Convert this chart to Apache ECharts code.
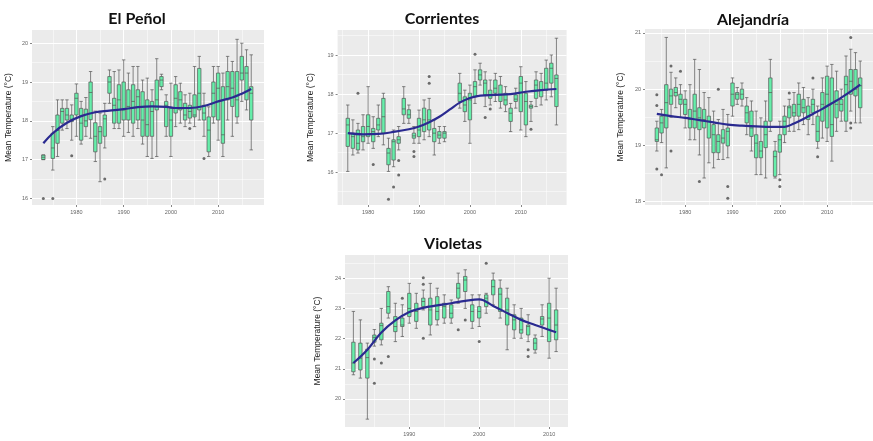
<!DOCTYPE html>
<html><head><meta charset="utf-8">
<script src="https://cdn.jsdelivr.net/npm/echarts@6/dist/echarts.min.js"></script>
<style>html,body{margin:0;padding:0;background:#fff}#c{width:873px;height:441px}</style>
</head><body><div id="c"></div><script>
// ---------- El Peñol ----------
const penolBoxes = [
 [1973,17.0,17.0,17.06,17.12,17.12],[1975,16.73,17.03,17.3,17.68,17.85],[1976,17.08,17.42,17.75,18.15,18.54],
 [1977,17.76,17.94,18.24,18.32,18.54],[1978,17.8,18.02,18.15,18.32,18.54],[1979,17.5,17.98,18.04,18.15,18.41],
 [1980,17.6,18.15,18.58,18.71,18.95],[1981,17.4,17.5,17.94,18.32,18.5],[1982,17.6,17.85,18.0,18.3,18.6],
 [1983,17.55,18.03,18.73,19.0,19.27],[1984,16.95,17.2,17.6,17.95,18.25],[1985,16.43,17.42,17.72,17.85,18.2],
 [1986,17.3,17.6,18.05,18.15,18.45],[1987,18.45,18.71,19.0,19.14,19.31],[1988,17.8,17.94,18.4,18.58,19.27],
 [1989,17.8,17.94,18.54,18.93,19.31],[1990,17.6,18.02,18.28,19.0,19.57],[1991,17.7,18.02,18.37,18.8,19.23],
 [1992,17.6,17.94,18.5,18.93,19.4],[1993,17.8,18.02,18.62,18.8,19.4],[1994,17.4,17.6,18.02,18.75,19.05],
 [1995,17.08,17.6,17.9,18.54,19.1],[1996,17.03,17.6,18.24,18.5,18.8],[1997,17.08,18.28,18.54,19.05,19.6],
 [1998,18.8,18.88,19.05,19.14,19.2],[1999,17.6,17.85,18.4,18.5,18.67],[2000,17.08,17.6,18.02,18.32,18.97],
 [2001,17.85,18.2,18.58,18.93,19.14],[2002,17.94,18.28,18.54,18.75,18.97],[2003,17.85,18.02,18.15,18.45,18.67],
 [2004,17.94,18.07,18.24,18.4,18.71],[2005,17.85,18.1,18.15,18.67,19.4],[2006,18.02,18.28,18.71,19.35,19.66],
 [2007,17.6,18.02,18.2,18.4,18.71],[2008,17.08,17.2,17.76,18.1,18.36],[2009,17.94,18.1,18.71,19.0,19.4],
 [2010,17.5,18.02,18.84,19.23,19.4],[2011,17.08,17.42,17.64,18.88,19.23],[2012,18.02,18.54,18.88,19.27,19.66],
 [2013,17.6,18.37,18.84,19.27,19.53],[2014,17.94,18.1,18.54,19.27,20.1],[2015,18.5,19.05,19.23,19.66,20.0],
 [2016,18.28,18.54,19.23,19.4,19.83],[2017,17.25,18.02,18.71,18.88,19.7]
];
const penolOutliers = [[1973,16.0],[1975,16.0],[1979,17.1],[1986,16.5],[2004,17.8],[2007,17.03]];
const penolSmooth = [[1973,17.42],[1975,17.68],[1978,17.95],[1981,18.12],[1984,18.22],[1987,18.26],[1990,18.3],
 [1993,18.35],[1996,18.37],[1999,18.36],[2001,18.33],[2004,18.33],[2007,18.38],[2010,18.5],[2013,18.6],[2015,18.7],[2017,18.82]];
const penolXTicks = [1980,1990,2000,2010];
const penolYTicks = [16,17,18,19,20];
const penolXMinor = [1975,1985,1995,2005,2015];
const penolYMinor = [16.5,17.5,18.5,19.5];

// ---------- Corrientes ----------
const corrBoxes = [
 [1976,16.02,16.66,17.21,17.38,17.72],[1977,16.44,16.61,16.91,17.0,17.34],[1978,16.49,16.57,16.74,17.08,17.25],
 [1979,16.57,16.78,16.91,17.17,17.47],[1980,16.74,16.91,17.17,17.47,18.19],[1981,16.61,16.78,17.04,17.12,17.42],
 [1982,16.91,17.08,17.21,17.38,17.72],[1983,16.7,17.0,17.42,17.89,18.02],[1984,16.02,16.19,16.49,16.61,16.87],
 [1985,16.14,16.31,16.78,16.83,17.08],[1986,16.57,16.74,16.83,16.91,17.17],[1987,17.25,17.47,17.62,17.89,18.19],
 [1988,17.25,17.38,17.47,17.6,17.72],[1989,16.74,16.87,16.93,17.0,17.17],[1990,16.74,16.91,17.08,17.38,17.59],
 [1991,16.83,17.04,17.34,17.64,17.85],[1992,16.91,17.08,17.34,17.6,17.89],[1993,16.44,16.78,17.0,17.12,17.34],
 [1994,16.74,16.87,16.95,17.04,17.17],[1995,16.78,16.87,17.0,17.04,17.17],
 [1998,17.64,17.81,18.02,18.28,18.53],[1999,17.3,17.55,17.72,17.93,18.1],[2000,16.74,17.34,17.85,18.02,18.23],
 [2001,17.76,17.93,18.19,18.32,18.62],[2002,18.23,18.36,18.49,18.62,18.79],[2003,17.68,17.98,18.28,18.36,18.57],
 [2004,17.72,17.89,17.98,18.1,18.36],[2005,17.81,18.02,18.15,18.36,18.53],[2006,17.64,17.81,17.98,18.23,18.45],
 [2007,17.55,17.72,17.85,18.02,18.19],[2008,17.04,17.3,17.51,17.64,17.76],[2009,17.64,17.81,17.87,17.98,18.15],
 [2010,17.08,17.55,18.28,18.45,18.7],[2011,16.91,17.21,17.81,18.02,18.32],[2012,17.3,17.64,17.68,17.72,17.81],
 [2013,17.68,17.89,18.23,18.36,18.57],[2014,17.72,17.93,18.1,18.32,18.53],[2015,17.85,18.1,18.28,18.66,18.87],
 [2016,17.93,18.28,18.66,18.79,19.0],[2017,17.21,17.68,18.4,18.49,19.43]
];
const corrOutliers = [[1978,18.02],[1981,16.2],[1984,15.31],[1985,15.62],[1986,15.93],[1986,16.3],[1989,16.53],
 [1989,16.4],[1992,18.45],[1992,18.28],[2001,19.02],[2003,17.4],[2004,17.62],[2012,17.1]];
const corrSmooth = [[1976,17.0],[1979,16.97],[1982,16.98],[1985,17.03],[1988,17.1],[1990,17.17],[1992,17.28],
 [1994,17.42],[1996,17.6],[1998,17.78],[2000,17.9],[2002,17.96],[2005,17.98],[2008,18.0],[2011,18.06],[2014,18.1],[2017,18.13]];
const corrXTicks = [1980,1990,2000,2010];
const corrYTicks = [16,17,18,19];
const corrXMinor = [1975,1985,1995,2005,2015];
const corrYMinor = [15.5,16.5,17.5,18.5,19.5];

// ---------- Alejandría ----------
const alejBoxes = [
 [1974,18.9,19.07,19.1,19.31,19.43],[1975,19.05,19.22,19.4,19.52,19.64],[1976,18.6,19.31,19.76,20.08,20.92],
 [1977,19.5,19.73,19.88,20.0,20.3],[1978,19.67,19.88,19.94,20.03,20.2],[1979,19.5,19.73,19.82,19.91,20.08],
 [1980,19.31,19.55,19.73,19.82,19.97],[1981,19.1,19.31,19.46,19.64,20.08],[1982,19.1,19.31,19.61,19.91,20.53],
 [1983,18.83,19.28,19.49,19.67,20.35],[1984,18.42,19.31,19.46,19.64,19.94],[1985,18.69,19.13,19.43,19.52,19.85],
 [1986,18.6,18.87,19.19,19.37,19.61],[1987,18.75,18.87,19.07,19.19,19.46],[1988,18.75,19.04,19.13,19.28,19.64],
 [1989,18.78,18.99,19.25,19.31,19.55],[1990,19.52,19.7,19.91,20.11,20.2],[1991,19.73,19.82,19.91,19.94,20.03],
 [1992,19.7,19.82,19.91,20.0,20.11],[1993,19.19,19.4,19.58,19.7,19.85],[1994,18.9,19.16,19.31,19.61,19.79],
 [1995,18.48,18.78,19.04,19.19,19.61],[1996,18.48,18.78,18.9,19.07,19.49],[1997,18.42,18.96,19.19,19.43,19.79],
 [1998,19.25,19.43,19.94,20.2,20.53],[1999,18.42,18.45,18.8,18.9,19.07],[2000,18.48,18.88,19.1,19.19,19.43],
 [2001,19.05,19.19,19.43,19.52,19.7],[2002,19.25,19.49,19.67,19.7,19.82],[2003,19.25,19.52,19.58,19.73,19.94],
 [2004,19.28,19.52,19.73,19.91,20.11],[2005,19.37,19.58,19.67,19.82,20.03],[2006,19.19,19.46,19.52,19.7,19.85],
 [2007,19.37,19.58,19.73,19.82,20.0],[2008,18.95,19.07,19.25,19.52,19.7],[2009,19.13,19.43,19.73,19.94,20.2],
 [2010,19.07,19.31,19.91,20.23,20.41],[2011,18.72,19.16,19.37,20.2,20.44],[2012,19.25,19.49,19.73,19.97,20.32],
 [2013,19.43,19.61,19.73,19.82,20.0],[2014,19.25,19.43,20.08,20.23,20.59],[2015,19.61,19.91,20.14,20.35,20.71],
 [2016,19.4,19.88,20.0,20.35,20.65],[2017,19.4,19.67,20.06,20.2,20.5]
];
const alejOutliers = [[1974,19.9],[1974,19.71],[1974,18.58],[1975,18.48],[1977,20.41],[1977,18.9],[1979,20.32],
 [1983,18.36],[1987,20.0],[1989,18.27],[1989,18.06],[2000,18.39],[2000,18.27],[2002,19.93],[2007,20.2],
 [2008,18.8],[2015,20.92],[2015,19.4],[2015,19.31]];
const alejSmooth = [[1974,19.56],[1977,19.52],[1980,19.49],[1983,19.45],[1986,19.41],[1989,19.37],[1992,19.35],
 [1995,19.34],[1998,19.33],[2001,19.33],[2003,19.39],[2005,19.47],[2007,19.56],[2009,19.65],[2011,19.75],
 [2013,19.85],[2015,19.96],[2017,20.08]];
const alejXTicks = [1980,1990,2000,2010];
const alejYTicks = [18,19,20,21];
const alejXMinor = [1975,1985,1995,2005,2015];
const alejYMinor = [18.5,19.5,20.5];

// ---------- Violetas ----------
const violBoxes = [
 [1982,20.8,20.9,21.19,21.88,22.9],[1983,20.69,20.96,21.35,21.85,22.62],[1984,19.33,20.69,21.37,21.65,21.85],
 [1985,21.75,21.88,22.04,22.12,22.3],[1986,21.79,21.96,22.43,22.51,23.0],[1987,22.68,22.84,23.06,23.56,23.72],
 [1988,21.9,22.23,22.4,22.73,23.17],[1989,22.07,22.4,22.45,22.68,23.12],[1990,22.51,22.73,23.0,23.5,23.83],
 [1991,22.34,22.57,22.9,23.17,23.5],[1992,22.95,23.06,23.23,23.34,23.61],[1993,22.12,22.45,22.95,23.34,23.83],
 [1994,22.45,22.62,22.9,23.39,23.67],[1995,22.51,22.68,23.06,23.17,23.45],[1996,22.51,22.68,22.84,23.12,23.28],
 [1997,23.17,23.34,23.67,23.83,24.17],[1998,23.0,23.56,23.94,24.06,24.28],[1999,22.34,22.57,22.9,23.12,23.45],
 [2000,22.4,22.68,22.9,23.06,23.45],[2001,22.84,23.06,23.34,23.45,23.5],[2002,23.12,23.45,23.72,23.94,24.17],
 [2003,22.68,22.9,23.47,23.67,23.94],[2004,21.63,22.45,22.95,23.34,23.67],[2005,22.01,22.29,22.62,22.79,23.12],
 [2006,22.01,22.18,22.29,22.68,23.0],[2007,21.9,22.12,22.4,22.45,22.79],[2008,21.52,21.63,21.85,22.01,22.12],
 [2009,22.07,22.45,22.65,22.73,23.12],[2010,21.35,21.9,22.68,23.17,24.0],[2011,21.57,21.96,22.45,22.95,23.67]
];
const violOutliers = [[1985,21.32],[1985,20.52],[1986,21.19],[1987,21.41],[1989,23.34],[1992,24.02],[1992,23.8],
 [1992,22.01],[1997,22.29],[1998,22.62],[2000,21.9],[2001,24.5],[2007,21.63],[2007,21.41]];
const violSmooth = [[1982,21.19],[1984,21.63],[1986,22.2],[1988,22.6],[1990,22.88],[1992,23.02],[1994,23.1],
 [1996,23.17],[1998,23.25],[2000,23.3],[2002,23.08],[2004,22.85],[2006,22.62],[2008,22.45],[2011,22.21]];
const violXTicks = [1990,2000,2010];
const violYTicks = [20,21,22,23,24];
const violXMinor = [1985,1995,2005];
const violYMinor = [19.5,20.5,21.5,22.5,23.5,24.5];

const yAxisTitle = 'Mean Temperature (°C)';

// ---------- layout (separate from data) ----------
const panels = [
 {name:'El Peñol', boxes:penolBoxes, outliers:penolOutliers, smooth:penolSmooth, xTicks:penolXTicks, yTicks:penolYTicks,
  xMinor:penolXMinor, yMinor:penolYMinor, left:32, top:30, width:232, height:175, xMin:1970.6, xMax:2019.7, yMin:15.83, yMax:20.34,
  tx:137, ty:19, nameGap:19},
 {name:'Corrientes', boxes:corrBoxes, outliers:corrOutliers, smooth:corrSmooth, xTicks:corrXTicks, yTicks:corrYTicks,
  xMinor:corrXMinor, yMinor:corrYMinor, left:337.6, top:30, width:229, height:175, xMin:1974, xMax:2019, yMin:15.16, yMax:19.64,
  tx:442, ty:19, nameGap:22},
 {name:'Alejandría', boxes:alejBoxes, outliers:alejOutliers, smooth:alejSmooth, xTicks:alejXTicks, yTicks:alejYTicks,
  xMinor:alejXMinor, yMinor:alejYMinor, left:645, top:29, width:232, height:176, xMin:1971.5, xMax:2019.7, yMin:17.94, yMax:21.07,
  tx:753, ty:20, nameGap:20},
 {name:'Violetas', boxes:violBoxes, outliers:violOutliers, smooth:violSmooth, xTicks:violXTicks, yTicks:violYTicks,
  xMinor:violXMinor, yMinor:violYMinor, left:345, top:255, width:223, height:172, xMin:1980.8, xMax:2012.7, yMin:19.07, yMax:24.77,
  tx:453, ty:244, nameGap:23}
];

const tickFont = {fontSize:5.5, color:'#666', fontFamily:'Liberation Sans'};
const option = {animation:false, backgroundColor:'#ffffff', grid:[], xAxis:[], yAxis:[], series:[], graphic:[]};

panels.forEach((p, i) => {
  option.grid.push({left:p.left, top:p.top, width:p.width, height:p.height, show:true,
    backgroundColor:'#EBEBEB', borderWidth:0, containLabel:false});
  option.xAxis.push({type:'value', gridIndex:i, min:p.xMin, max:p.xMax, minInterval:10, maxInterval:10,
    axisLine:{show:false},
    axisTick:{show:true, length:2, customValues:p.xTicks, lineStyle:{color:'#666', width:0.8}},
    axisLabel:Object.assign({customValues:p.xTicks, margin:4,
      formatter:v => (Math.abs(v % 10) < 1e-6 ? String(Math.round(v)) : '')}, tickFont),
    splitLine:{show:true, lineStyle:{color:'#ffffff', width:1}}});
  option.yAxis.push({type:'value', gridIndex:i, min:p.yMin, max:p.yMax, minInterval:1, maxInterval:1,
    name:yAxisTitle, nameLocation:'middle', nameRotate:90, nameGap:p.nameGap,
    nameTextStyle:{fontSize:8.5, color:'#222', fontFamily:'Liberation Sans'},
    axisLine:{show:false},
    axisTick:{show:true, length:2, customValues:p.yTicks, lineStyle:{color:'#666', width:0.8}},
    axisLabel:Object.assign({customValues:p.yTicks, margin:4,
      formatter:v => (Math.abs(v - Math.round(v)) < 1e-6 ? String(Math.round(v)) : '')}, tickFont),
    splitLine:{show:true, lineStyle:{color:'#ffffff', width:1}}});
  option.series.push({type:'boxplot', xAxisIndex:i, yAxisIndex:i, data:p.boxes, boxWidth:[3.4,3.4], z:2,
    itemStyle:{color:'#66EEAA', borderColor:'#555555', borderWidth:0.7}, emphasis:{disabled:true}, silent:true});
  option.series.push({type:'scatter', xAxisIndex:i, yAxisIndex:i, data:p.outliers, symbolSize:3, z:3,
    itemStyle:{color:'#4a4a4a'}, silent:true});
  const minorLines = p.xMinor.map(v => ({xAxis:v})).concat(p.yMinor.map(v => ({yAxis:v})));
  option.series.push({type:'line', xAxisIndex:i, yAxisIndex:i, data:p.smooth, smooth:0.4, showSymbol:false, z:4,
    lineStyle:{color:'#2A2A90', width:2.2}, silent:true,
    markLine:{silent:true, symbol:'none', z:1, label:{show:false}, animation:false,
      lineStyle:{color:'#ffffff', width:0.5, type:'solid'}, emphasis:{disabled:true}, data:minorLines}});
  option.graphic.push({type:'text', x:p.tx, y:p.ty, silent:true,
    style:{text:p.name, align:'center', verticalAlign:'middle', fill:'#111', font:'bold 16px Lato'}});
});

const chart = echarts.init(document.getElementById('c'), null, {renderer:'canvas'});
chart.setOption(option);
</script></body></html>
